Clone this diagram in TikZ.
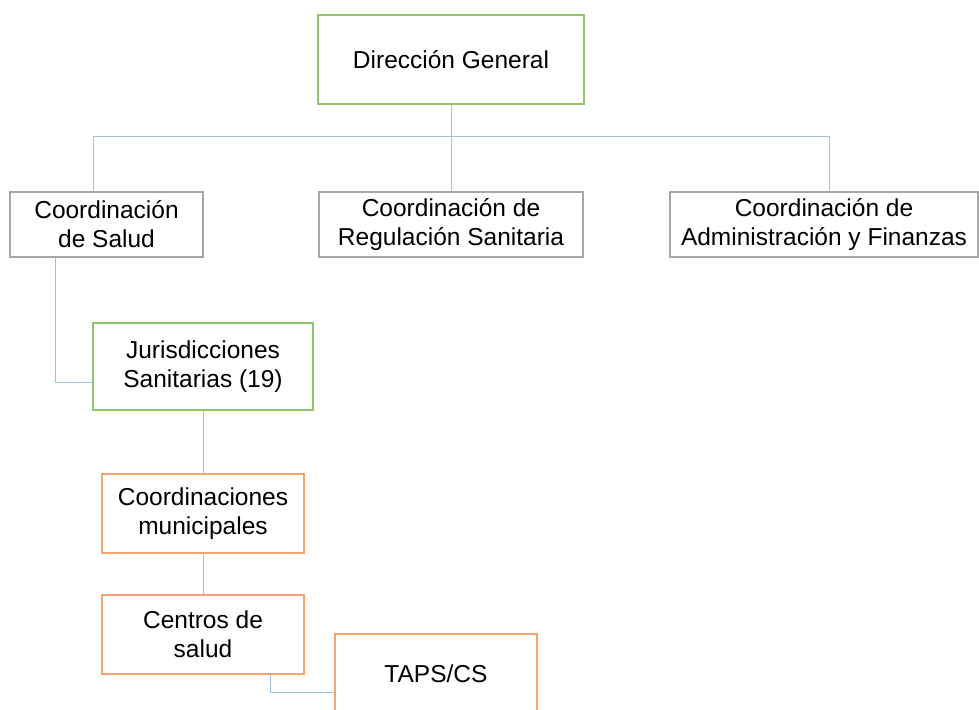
\documentclass[tikz,border=0pt]{standalone}
\usepackage{fontspec}
\setmainfont{Liberation Sans}
\usepackage{xcolor}
\definecolor{verde}{RGB}{146,196,106}
\definecolor{naranja}{RGB}{244,164,110}
\definecolor{gris}{RGB}{166,166,166}
\definecolor{azul}{RGB}{157,195,230}
\usetikzlibrary{positioning}
\usetikzlibrary{calc}

\begin{document}
\begin{tikzpicture}[x=1pt,y=-1pt]
    \tikzstyle{every node}=[font=\fontsize{24.5}{29}\selectfont, align=center, inner sep=1pt]
    \tikzstyle{caja}=[draw, line width=1.3pt, fill=white]
    \tikzstyle{enlace}=[draw=azul, line width=1pt]
    \clip (0,0) rectangle (979,709);
    \useasboundingbox (0,0) rectangle (979,709);

    % direccion
    \node [caja, draw=verde, minimum width=266pt, minimum height=89pt] (dg) at (451,59.5) {Direcci\'on General};

    % coordinaciones
    \node [caja, draw=gris, minimum width=193pt, minimum height=65pt] (salud) at (106.5,224.5) {Coordinaci\'on\\de Salud};
    \node [caja, draw=gris, minimum width=264pt, minimum height=65pt] (regul) at (451,224.5) {Coordinaci\'on de\\Regulaci\'on Sanitaria};
    \node [caja, draw=gris, minimum width=308pt, minimum height=65pt] (admin) at (824,224.5) {Coordinaci\'on de\\Administraci\'on y Finanzas};

    % niveles
    \node [caja, draw=verde, minimum width=220pt, minimum height=87pt] (juris) at (203,366.5) {Jurisdicciones\\Sanitarias (19)};
    \node [caja, draw=naranja, minimum width=202pt, minimum height=79pt] (munic) at (203,513.5) {Coordinaciones\\municipales};
    \node [caja, draw=naranja, minimum width=202pt, minimum height=79pt] (centros) at (203,634.5) {Centros de\\salud};
    \node [caja, draw=naranja, minimum width=202pt, minimum height=79pt] (taps) at (436,673.5) {TAPS/CS};

    \coordinate (busL) at (93,136);
    \coordinate (busR) at (829,136);
    \coordinate (codo) at (55,382);
    \coordinate (codo2) at (270,692);

    \draw [enlace] (busL) -- (busR);
    \draw [enlace] (dg.south) -- (regul.north);
    \draw [enlace] (busL) -- (busL |- salud.north);
    \draw [enlace] (busR) -- (busR |- admin.north);
    \draw [enlace] (codo |- salud.south) -- (codo) -- (codo -| juris.west);
    \draw [enlace] (juris.south) -- (munic.north);
    \draw [enlace] (munic.south) -- (centros.north);
    \draw [enlace] (codo2 |- centros.south) -- (codo2) -- (codo2 -| taps.west);
\end{tikzpicture}
\end{document}
